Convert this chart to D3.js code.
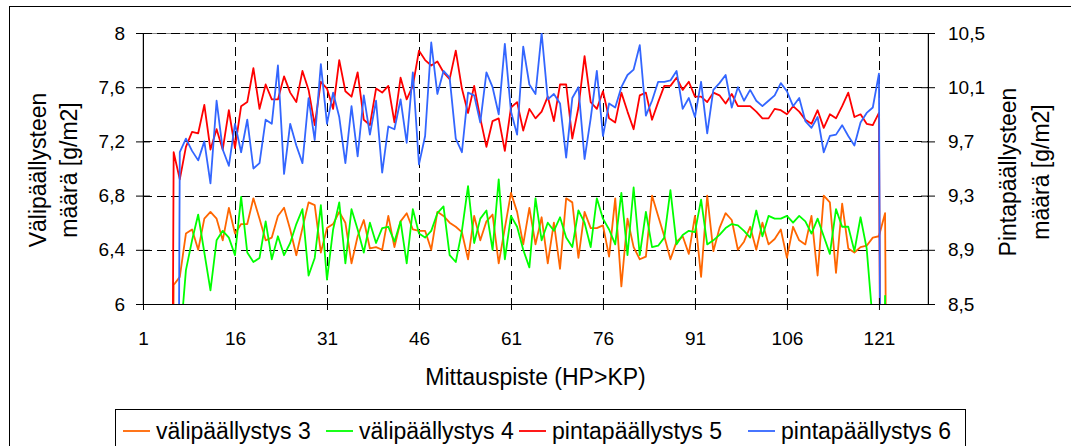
<!DOCTYPE html>
<html>
<head>
<meta charset="utf-8">
<script src="https://cdn.jsdelivr.net/npm/d3@7/dist/d3.min.js"></script>
<style>
body { margin: 0; background: #fff; }
text { font-family: "Liberation Sans", Arial, sans-serif; fill: #000; }
</style>
</head>
<body>
<script>
//data
var xTicks = [1, 16, 31, 46, 61, 76, 91, 106, 121];
var leftTicks = [6, 6.4, 6.8, 7.2, 7.6, 8];
var rightTicks = [8.5, 8.9, 9.3, 9.7, 10.1, 10.5];
var seriesNames = ["välipäällystys 3", "välipäällystys 4", "pintapäällystys 5", "pintapäällystys 6"];

//first measuring point of each series
var start3 = 5, start4 = 7, start5 = 5, start6 = 6;

var vali3 = [0, 6.14, 6.20, 6.52, 6.55, 6.40, 6.63, 6.68, 6.63, 6.47, 6.71, 6.52, 6.59, 6.59, 6.78, 6.63,
  6.47, 6.49, 6.65, 6.71, 6.55, 6.36, 6.56, 6.75, 6.73, 6.38, 6.56, 6.59, 6.68, 6.60, 6.30, 6.50,
  6.62, 6.41, 6.42, 6.40, 6.65, 6.42, 6.61, 6.67, 6.55, 6.54, 6.54, 6.40, 6.68, 6.65, 6.60, 6.57,
  6.53, 6.33, 6.65, 6.47, 6.61, 6.66, 6.30, 6.56, 6.82, 6.68, 6.44, 6.71, 6.44, 6.64, 6.30, 6.60,
  6.26, 6.78, 6.75, 6.34, 6.68, 6.56, 6.56, 6.58, 6.35, 6.78, 6.13, 6.63, 6.42, 6.33, 6.35, 6.80,
  6.65, 6.50, 6.33, 6.46, 6.50, 6.37, 6.65, 6.20, 6.80, 6.39, 6.56, 6.67, 6.62, 6.40, 6.46, 6.57,
  6.40, 6.60, 6.44, 6.48, 6.55, 6.34, 6.57, 6.47, 6.44, 6.65, 6.21, 6.80, 6.75, 6.23, 6.74, 6.41,
  6.38, 6.42, 6.43, 6.49, 6.50, 6.67, 0];

var vali4 = [5.70, 6.25, 6.47, 6.66, 6.38, 6.10, 6.47, 6.54, 6.49, 6.36, 6.79, 6.38, 6.31, 6.34, 6.61,
  6.33, 6.50, 6.36, 6.45, 6.59, 6.70, 6.21, 6.34, 6.73, 6.18, 6.55, 6.75, 6.30, 6.70, 6.55, 6.38,
  6.60, 6.45, 6.56, 6.57, 6.46, 6.61, 6.30, 6.70, 6.52, 6.49, 6.54, 6.67, 6.72, 6.36, 6.31, 6.54,
  6.87, 6.45, 6.63, 6.69, 6.40, 6.92, 6.33, 6.65, 6.57, 6.40, 6.27, 6.78, 6.47, 6.60, 6.54, 6.64,
  6.49, 6.42, 6.69, 6.60, 6.42, 6.78, 6.63, 6.55, 6.44, 6.82, 6.36, 6.86, 6.36, 6.68, 6.42, 6.43,
  6.49, 6.84, 6.44, 6.51, 6.54, 6.53, 6.77, 6.44, 6.47, 6.51, 6.56, 6.59, 6.58, 6.54, 6.49, 6.69,
  6.50, 6.65, 6.63, 6.63, 6.65, 6.60, 6.65, 6.61, 6.52, 6.63, 6.50, 6.37, 6.70, 6.57, 6.57, 6.39,
  6.64, 6.41, 5.86, 0, 6.06, 0];

var pinta5 = [0, 9.62, 9.42, 9.66, 9.77, 9.76, 9.97, 9.64, 9.79, 9.64, 9.93, 9.65, 9.96, 9.99, 10.24,
  9.94, 10.12, 10.01, 10.01, 10.18, 10.06, 9.99, 10.22, 10.08, 9.82, 10.14, 10.09, 9.94, 10.30,
  10.07, 10.03, 10.21, 9.86, 9.82, 10.09, 10.06, 10.11, 9.84, 10.17, 10.01, 10.11, 10.37, 10.30,
  10.26, 10.29, 10.21, 10.16, 10.37, 10.09, 9.91, 10.11, 9.87, 9.66, 9.85, 9.87, 9.63, 9.95, 9.99,
  9.78, 9.94, 9.87, 9.92, 10.03, 9.85, 10.12, 10.12, 9.72, 9.95, 10.33, 9.99, 9.94, 10.07, 9.87,
  9.84, 10.06, 9.92, 9.79, 10.04, 10.06, 9.86, 9.99, 10.11, 10.11, 10.17, 10.08, 10.14, 10.03,
  10.03, 9.99, 10.06, 10.04, 9.98, 10.05, 9.96, 9.96, 9.96, 9.92, 9.87, 9.87, 9.94, 9.93, 9.90,
  9.96, 9.92, 9.86, 9.83, 9.93, 9.80, 9.90, 9.87, 9.96, 10.06, 9.88, 9.90, 9.83, 9.82, 9.91, 0];

var pinta6 = [0, 9.62, 9.72, 9.63, 9.56, 9.70, 9.39, 10.00, 9.64, 9.52, 9.83, 9.62, 9.86, 9.50, 9.54,
  9.86, 9.83, 10.26, 9.46, 9.83, 9.67, 9.54, 10.02, 9.71, 10.27, 9.83, 10.06, 9.88, 9.54, 9.96,
  9.59, 10.04, 9.75, 10.00, 9.47, 9.81, 9.79, 10.01, 9.69, 10.21, 9.53, 9.74, 10.43, 10.05, 10.22,
  10.17, 9.72, 9.62, 10.06, 10.04, 9.84, 10.21, 10.10, 9.90, 10.42, 9.92, 9.75, 10.40, 10.12, 10.05,
  10.50, 10.01, 10.05, 9.98, 9.58, 10.02, 10.10, 9.57, 9.87, 10.22, 9.74, 9.98, 9.95, 10.10, 10.19,
  10.23, 10.41, 9.89, 10.00, 10.14, 10.14, 10.15, 10.22, 9.94, 10.02, 9.88, 10.14, 9.76, 10.08,
  10.13, 10.19, 9.95, 10.10, 10.00, 10.08, 10.00, 9.96, 10.00, 10.04, 10.13, 10.07, 9.96, 10.02,
  9.85, 9.80, 9.88, 9.62, 9.74, 9.75, 9.82, 9.74, 9.67, 9.84, 9.91, 9.95, 10.20, 0];

//layout
var width = 1071, height = 446;
var plot = { left: 143, right: 928, top: 33, bottom: 304 };
var colors = ["#ff6600", "#00ff00", "#ff0000", "#3366ff"];
var fmt = function(d) { return String(d).replace(".", ","); };

var svg = d3.select("body").append("svg")
    .attr("width", width)
    .attr("height", height)
    .style("display", "block");

svg.append("rect").attr("width", width).attr("height", height).attr("fill", "#fff");

//chart frame, runs off the right and bottom edge
svg.append("rect")
    .attr("x", 9.5).attr("y", 6.5)
    .attr("width", 1100).attr("height", 500)
    .attr("fill", "none").attr("stroke", "#000");

var x = d3.scaleLinear().domain([1, 129]).range([plot.left, plot.right]);
var yLeft = d3.scaleLinear().domain([6, 8]).range([plot.bottom, plot.top]);
var yRight = d3.scaleLinear().domain([8.5, 10.5]).range([plot.bottom, plot.top]);

//plot area border
svg.append("rect")
    .attr("x", plot.left).attr("y", plot.top + 0.5)
    .attr("width", plot.right - plot.left).attr("height", plot.bottom - plot.top)
    .attr("fill", "#fff").attr("stroke", "#888");

//dashed gridlines
var grid = svg.append("g").attr("stroke", "#000").attr("stroke-dasharray", "9,5").attr("fill", "none");
grid.selectAll("line.h")
    .data(leftTicks.filter(function(d) { return d > 6; }))
    .enter().append("line")
    .attr("x1", plot.left).attr("x2", plot.right)
    .attr("y1", function(d) { return Math.round(yLeft(d)) + 0.5; })
    .attr("y2", function(d) { return Math.round(yLeft(d)) + 0.5; });
grid.selectAll("line.v")
    .data(xTicks.filter(function(d) { return d > 1; }))
    .enter().append("line")
    .attr("y1", plot.top).attr("y2", plot.bottom)
    .attr("x1", function(d) { return Math.round(x(d)) + 0.5; })
    .attr("x2", function(d) { return Math.round(x(d)) + 0.5; });

//series
svg.append("clipPath").attr("id", "clip")
    .append("rect")
    .attr("x", plot.left).attr("y", plot.top)
    .attr("width", plot.right - plot.left).attr("height", plot.bottom - plot.top);

var series = [
    { values: vali3, start: start3, y: yLeft },
    { values: vali4, start: start4, y: yLeft },
    { values: pinta5, start: start5, y: yRight },
    { values: pinta6, start: start6, y: yRight }
];

var lines = svg.append("g").attr("clip-path", "url(#clip)");
series.forEach(function(s, k) {
    var line = d3.line()
        .x(function(d, i) { return x(s.start + i); })
        .y(function(d) { return s.y(d); });
    lines.append("path")
        .attr("d", line(s.values))
        .attr("fill", "none")
        .attr("stroke", colors[k])
        .attr("stroke-width", 1.8)
        .attr("stroke-linejoin", "round");
});

//axes
var leftAxis = svg.append("g")
    .attr("transform", "translate(" + plot.left + ",0)")
    .call(d3.axisLeft(yLeft).tickValues(leftTicks).tickFormat(fmt).tickSize(7).tickSizeOuter(0).tickPadding(11));
leftAxis.selectAll(".tick line").attr("x1", 7);

var rightAxis = svg.append("g")
    .attr("transform", "translate(" + plot.right + ",0)")
    .call(d3.axisRight(yRight).tickValues(rightTicks).tickFormat(fmt).tickSize(7).tickSizeOuter(0).tickPadding(13));
rightAxis.selectAll(".tick line").attr("x1", -7);

var bottomAxis = svg.append("g")
    .attr("transform", "translate(0," + plot.bottom + ")")
    .call(d3.axisBottom(x).tickValues(xTicks).tickSize(6).tickSizeOuter(0));
bottomAxis.selectAll(".tick line").attr("y1", -6);
bottomAxis.selectAll(".tick text").attr("y", 41).attr("dy", 0);

[leftAxis, rightAxis, bottomAxis].forEach(function(a) {
    a.selectAll("path, line").attr("stroke", "#000");
    a.selectAll("text").attr("font-size", 19).attr("font-family", "Liberation Sans, Arial, sans-serif").attr("fill", "#000");
});

//axis titles
svg.append("text")
    .attr("x", (plot.left + plot.right) / 2).attr("y", 385)
    .attr("text-anchor", "middle").attr("font-size", 23)
    .text("Mittauspiste (HP>KP)");

var leftTitle = svg.append("text")
    .attr("transform", "translate(0,170) rotate(-90)")
    .attr("text-anchor", "middle").attr("font-size", 23);
leftTitle.append("tspan").attr("x", 0).attr("y", 46).text("Välipäällysteen");
leftTitle.append("tspan").attr("x", 0).attr("y", 77).text("määrä [g/m2]");

var rightTitle = svg.append("text")
    .attr("transform", "translate(0,172) rotate(-90)")
    .attr("text-anchor", "middle").attr("font-size", 23);
rightTitle.append("tspan").attr("x", 0).attr("y", 1016).text("Pintapäällysteen");
rightTitle.append("tspan").attr("x", 0).attr("y", 1049).text("määrä [g/m2]");

//legend
var legend = svg.append("g");
legend.append("rect")
    .attr("x", 115.5).attr("y", 409.5)
    .attr("width", 850).attr("height", 60)
    .attr("fill", "#fff").attr("stroke", "#000");

var legendX = [123, 326, 519, 748];
var items = legend.selectAll("g.item")
    .data(seriesNames)
    .enter().append("g")
    .attr("transform", function(d, i) { return "translate(" + legendX[i] + ",0)"; });
items.append("line")
    .attr("x1", 0).attr("x2", 27)
    .attr("y1", 431).attr("y2", 431)
    .attr("stroke", function(d, i) { return colors[i]; })
    .attr("stroke-width", 1.8);
items.append("text")
    .attr("x", 33).attr("y", 439)
    .attr("font-size", 23)
    .text(function(d) { return d; });
</script>
</body>
</html>
